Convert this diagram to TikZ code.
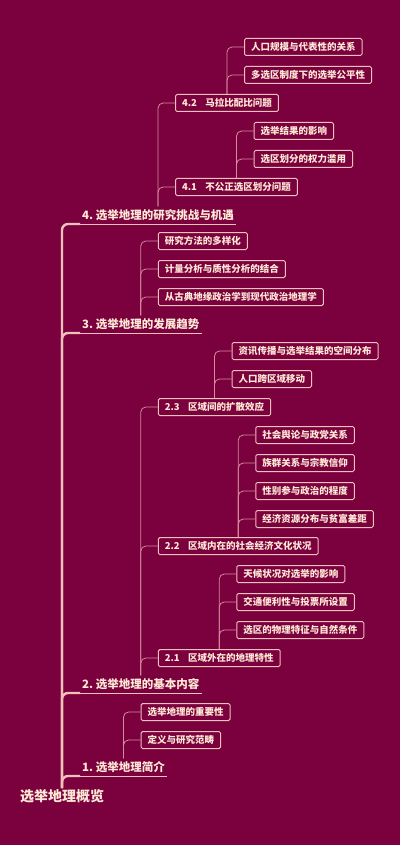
\documentclass[tikz,border=0pt]{standalone}
\usepackage{fontspec}
\setmainfont{Noto Sans CJK SC}
\usetikzlibrary{calc}
\usepackage{xcolor}
\definecolor{bgmaroon}{RGB}{122,0,62}
\definecolor{linkpink}{RGB}{214,140,155}
\definecolor{boxline}{RGB}{240,192,186}
\definecolor{textcream}{RGB}{255,232,212}

\begin{document}
\begin{tikzpicture}[x=1pt, y=-1pt,
    leaf/.style={draw=boxline, line width=1pt, rounded corners=1.5pt, text=textcream,
        font=\bfseries\fontsize{9.5}{10}\selectfont, inner xsep=6.5pt, inner ysep=0pt,
        minimum height=17pt, anchor=west},
    topic/.style={text=textcream, font=\bfseries\fontsize{11.5}{13}\selectfont,
        inner xsep=2pt, inner ysep=3pt, anchor=south west},
    link/.style={draw=linkpink, line width=0.8pt, rounded corners=5pt},
    trunk/.style={draw=boxline, line width=2.4pt, rounded corners=6pt},
    uline/.style={draw=boxline, line width=1pt}]
    \fill[bgmaroon] (0,0) rectangle (400,845);
    \useasboundingbox (0,0) rectangle (400,845);

    % root and main topics
    \node[text=textcream, font=\bfseries\fontsize{14}{16}\selectfont, inner sep=1pt] (root) at (62,796) {选举地理概览};
    \node[topic] (t4) at (80,224) {4.\ 选举地理的研究挑战与机遇};
    \node[topic] (t3) at (80,333) {3.\ 选举地理的发展趋势};
    \node[topic] (t2) at (80,693) {2.\ 选举地理的基本内容};
    \node[topic] (t1) at (80,776) {1.\ 选举地理简介};

    % 4
    \node[leaf] (b42) at ($(t4.north |- 0,103)+(17,0)$) {4.2\hspace{0.9em}马拉比配比问题};
    \node[leaf] (b41) at ($(t4.north |- 0,187)+(17,0)$) {4.1\hspace{0.9em}不公正选区划分问题};
    \node[leaf] (c421) at ($(b42.north |- 0,47)+(17,0)$) {人口规模与代表性的关系};
    \node[leaf] (c422) at ($(b42.north |- 0,75)+(17,0)$) {多选区制度下的选举公平性};
    \node[leaf] (c411) at ($(b41.north |- 0,131)+(17,0)$) {选举结果的影响};
    \node[leaf] (c412) at ($(b41.north |- 0,159)+(17,0)$) {选区划分的权力滥用};

    % 3
    \node[leaf] (c31) at ($(t3.north |- 0,241)+(17,0)$) {研究方法的多样化};
    \node[leaf] (c32) at ($(t3.north |- 0,269)+(17,0)$) {计量分析与质性分析的结合};
    \node[leaf] (c33) at ($(t3.north |- 0,297)+(17,0)$) {从古典地缘政治学到现代政治地理学};

    % 2
    \node[leaf] (b23) at ($(t2.north |- 0,407)+(17,0)$) {2.3\hspace{0.9em}区域间的扩散效应};
    \node[leaf] (b22) at ($(t2.north |- 0,546)+(17,0)$) {2.2\hspace{0.9em}区域内在的社会经济文化状况};
    \node[leaf] (b21) at ($(t2.north |- 0,658)+(17,0)$) {2.1\hspace{0.9em}区域外在的地理特性};
    \node[leaf] (c231) at ($(b23.north |- 0,351)+(17,0)$) {资讯传播与选举结果的空间分布};
    \node[leaf] (c232) at ($(b23.north |- 0,379)+(17,0)$) {人口跨区域移动};
    \node[leaf] (c221) at ($(b22.north |- 0,435)+(17,0)$) {社会舆论与政党关系};
    \node[leaf] (c222) at ($(b22.north |- 0,463)+(17,0)$) {族群关系与宗教信仰};
    \node[leaf] (c223) at ($(b22.north |- 0,491)+(17,0)$) {性别参与政治的程度};
    \node[leaf] (c224) at ($(b22.north |- 0,519)+(17,0)$) {经济资源分布与贫富差距};
    \node[leaf] (c211) at ($(b21.north |- 0,574)+(17,0)$) {天候状况对选举的影响};
    \node[leaf] (c212) at ($(b21.north |- 0,602)+(17,0)$) {交通便利性与投票所设置};
    \node[leaf] (c213) at ($(b21.north |- 0,630)+(17,0)$) {选区的物理特征与自然条件};

    % 1
    \node[leaf] (c11) at ($(t1.north |- 0,712)+(17,0)$) {选举地理的重要性};
    \node[leaf] (c12) at ($(t1.north |- 0,740)+(17,0)$) {定义与研究范畴};

    % connectors
    \foreach \t in {t4,t3,t2,t1} {
        \draw[trunk] (root.north) |- (\t.south west);
        \draw[uline] (\t.south west) -- (\t.south east);
    }
    \foreach \p/\c in {t4/b42, t4/b41, b42/c421, b42/c422, b41/c411, b41/c412,
        t3/c31, t3/c32, t3/c33,
        t2/b23, t2/b22, t2/b21, b23/c231, b23/c232,
        b22/c221, b22/c222, b22/c223, b22/c224, b21/c211, b21/c212, b21/c213,
        t1/c11, t1/c12}
        \draw[link] (\p.north) |- (\c.west);
\end{tikzpicture}
\end{document}
